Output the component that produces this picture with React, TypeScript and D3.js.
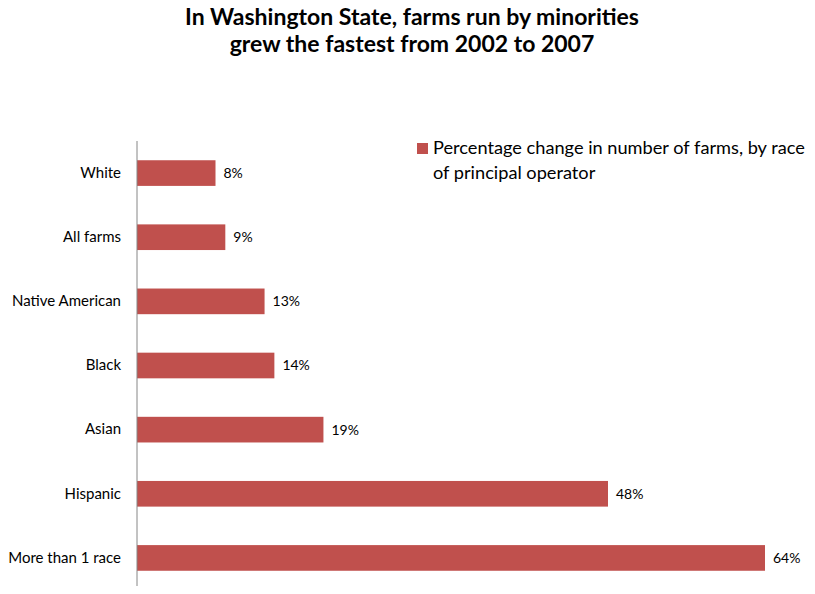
import { useEffect, useRef } from "react";
import * as d3 from "d3";

const CATEGORIES = ["White", "All farms", "Native American", "Black", "Asian", "Hispanic", "More than 1 race"];
const VALUES = [8, 9, 13, 14, 19, 48, 64];
const TITLE = ["In Washington State, farms run by minorities", "grew the fastest from 2002 to 2007"];
const LEGEND = ["Percentage change in number of farms, by race", "of principal operator"];

const FONT = "Lato, 'Open Sans', sans-serif";
const BAR = "#c0504d";

export default function App() {
  const svgRef = useRef<SVGSVGElement>(null);

  useEffect(() => {
    if (!svgRef.current) return;
    const width = 815;
    const height = 594;
    const svg = d3.select(svgRef.current);
    svg.selectAll("*").remove();
    svg.attr("width", width).attr("height", height);

    const x = d3.scaleLinear().domain([0, 64]).range([137, 765]);
    const y = d3.scaleBand().domain(CATEGORIES).range([141, 590]).paddingInner(0.6).paddingOuter(0.3);

    // title
    svg
      .append("g")
      .selectAll("text")
      .data(TITLE)
      .enter()
      .append("text")
      .attr("x", 412)
      .attr("y", (_, i) => 25 + i * 27)
      .attr("text-anchor", "middle")
      .style("font-family", FONT)
      .style("font-weight", "bold")
      .style("font-size", "23px")
      .style("fill", "#000")
      .text((d) => d);

    // bars
    svg
      .append("g")
      .selectAll("rect")
      .data(VALUES)
      .enter()
      .append("rect")
      .attr("x", x(0))
      .attr("y", (_, i) => y(CATEGORIES[i]) ?? 0)
      .attr("width", (d) => x(d) - x(0))
      .attr("height", y.bandwidth())
      .attr("fill", BAR);

    // value labels
    svg
      .append("g")
      .selectAll("text")
      .data(VALUES)
      .enter()
      .append("text")
      .attr("x", (d) => x(d) + 8)
      .attr("y", (_, i) => (y(CATEGORIES[i]) ?? 0) + y.bandwidth() / 2)
      .attr("dy", "0.35em")
      .style("font-family", FONT)
      .style("font-size", "14px")
      .style("fill", "#000")
      .text((d) => `${d}%`);

    // y axis
    const axis = svg
      .append("g")
      .attr("transform", `translate(${x(0)},0)`)
      .call(d3.axisLeft(y).tickSize(0).tickPadding(16));
    axis.select(".domain").remove();
    axis
      .selectAll("text")
      .style("font-family", FONT)
      .style("font-size", "15px")
      .style("fill", "#000");
    svg
      .append("line")
      .attr("x1", x(0))
      .attr("x2", x(0))
      .attr("y1", 141)
      .attr("y2", 590)
      .attr("stroke", "#868686")
      .attr("stroke-width", 1);

    // legend
    const lg = svg.append("g").attr("transform", "translate(417,143)");
    lg.append("rect").attr("width", 11).attr("height", 11).attr("fill", BAR);
    lg.selectAll("text")
      .data(LEGEND)
      .enter()
      .append("text")
      .attr("x", 16)
      .attr("y", (_, i) => 11 + i * 25)
      .style("font-family", FONT)
      .style("font-size", "18.2px")
      .style("fill", "#000")
      .text((d) => d);
  }, []);

  return (
    <div style={{ margin: -8 }}>
      <svg ref={svgRef} style={{ display: "block" }} />
    </div>
  );
}
